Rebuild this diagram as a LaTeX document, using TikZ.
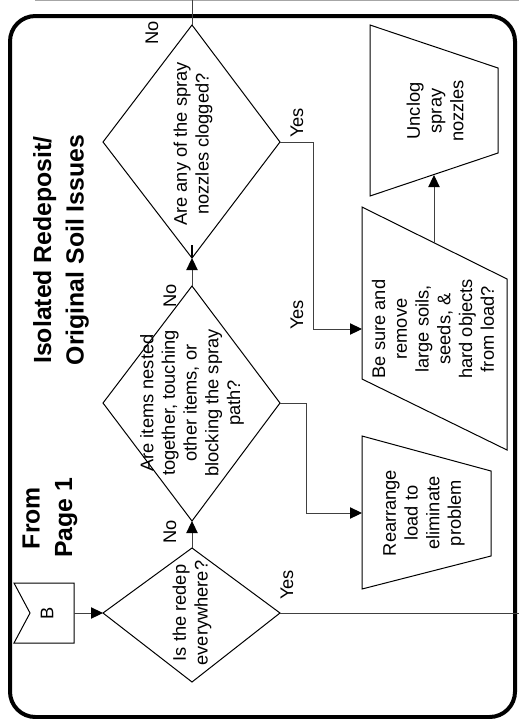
\documentclass[tikz,border=0pt]{standalone}
\usepackage{fontspec}
\setmainfont{Liberation Sans}
\usetikzlibrary{arrows.meta}

\tikzset{every picture/.style={line width=0.75pt}}
\tikzset{
  shp/.style={draw=black, line width=0.75pt},
  link/.style={draw=black!75, line width=0.75pt},
  arr/.style={link, -{Triangle[length=9pt,width=8.5pt,color=black]}},
  txt/.style={rotate=90, align=center, inner sep=0.75pt, font=\fontsize{13.7}{16.3}\selectfont},
  ttl/.style={rotate=90, align=center, inner sep=0.75pt, font=\bfseries\fontsize{18.6}{24.5}\selectfont},
}

\begin{document}
\begin{tikzpicture}[x=0.75pt,y=0.75pt,yscale=-1,xscale=1]
\useasboundingbox (0,0) rectangle (519,719);

%Shape: Rounded Rect [id:frame] 
\draw [line width=3pt, rounded corners=19pt] (10,16) rectangle (515,717) ;
%Straight Lines [id:pageedge] 
\draw [color=black!35] (35,0.6) -- (519,0.6) ;

%Shape: Off-page [id:offB] 
\draw [shp] (74,583) -- (14,583) -- (30,613) -- (14,643) -- (74,643) -- cycle ;
\coordinate (offBr) at (74,613);

%Shape: Diamond [id:dmd1] 
\coordinate (d1top) at (192,548);
\coordinate (d1bot) at (192,682);
\coordinate (d1left) at (103,613);
\coordinate (d1right) at (280,613);
\draw [shp] (d1top) -- (d1right) -- (d1bot) -- (d1left) -- cycle ;
%Shape: Diamond [id:dmd2] 
\coordinate (d2top) at (192,286);
\coordinate (d2bot) at (192,521);
\coordinate (d2left) at (103,403);
\coordinate (d2right) at (280,403);
\draw [shp] (d2top) -- (d2right) -- (d2bot) -- (d2left) -- cycle ;
%Shape: Diamond [id:dmd3] 
\coordinate (d3top) at (192,25);
\coordinate (d3bot) at (192,258);
\coordinate (d3left) at (103,142);
\coordinate (d3right) at (280,142);
\draw [shp] (d3top) -- (d3right) -- (d3bot) -- (d3left) -- cycle ;

%Shape: Trapezoid [id:unclog] 
\draw [shp] (370,25) -- (498,68) -- (498,153) -- (370,196) -- cycle ;
\coordinate (unclogin) at (434,175);
%Shape: Parallelogram [id:besure] 
\draw [shp] (362,207) -- (507,279) -- (507,450) -- (362,379) -- cycle ;
\coordinate (besurein) at (362,329);
\coordinate (besureout) at (434,243);
%Shape: Trapezoid [id:rearr] 
\draw [shp] (362,436) -- (491,471) -- (491,556) -- (362,589) -- cycle ;
\coordinate (rearrin) at (362,513);

%Straight Lines [id:links] 
\draw [arr] (offBr) -- (d1left) ;
\draw [arr] (d1top) -- (d2bot) ;
\draw [arr] (d2top) -- (d3bot) ;
\draw [line width=1.5pt] (d3bot) -- ++(0,-13) ;
\draw [link] (d3top) -- (192,0) ;
\draw [arr] (d3right) -| (313,329) -- (besurein) ;
\draw [arr] (d2right) -| (306,513) -- (rearrin) ;
\draw [link] (d1right) -- (519,613) ;
\draw [arr] (besureout) -- (unclogin) ;

% Text Node
\node [ttl] (title) at (61,250) {Isolated Redeposit/\\Original Soil Issues};
% Text Node
\node [ttl] (frompg) at (50,518) {From\\Page 1};
% Text Node
\node [txt] (lblB) at (47,613) {B};
% Text Node
\node [txt] (q1) at (192,613) {Is the redep\\everywhere?};
% Text Node
\node [txt] (q2) at (192,403) {Are items nested\\together, touching\\other items, or\\blocking the spray\\path?};
% Text Node
\node [txt] (q3) at (193,144) {Are any of the spray\\nozzles clogged?};
% Text Node
\node [txt] (unclog) at (435,111) {Unclog\\spray\\nozzles};
% Text Node
\node [txt] (besure) at (433,329) {Be sure and\\remove\\large soils,\\seeds, \&\\hard objects\\from load?};
% Text Node
\node [txt] (rearr) at (424,513) {Rearrange\\load to\\eliminate\\problem};
% Text Node
\node [txt] (no3) at (152,33) {No};
% Text Node
\node [txt] (no1) at (170,532) {No};
% Text Node
\node [txt] (no2) at (170,296) {No};
% Text Node
\node [txt] (yes3) at (297,123) {Yes};
% Text Node
\node [txt] (yes2) at (297,315) {Yes};
% Text Node
\node [txt] (yes1) at (287,585) {Yes};

\end{tikzpicture}
\end{document}
